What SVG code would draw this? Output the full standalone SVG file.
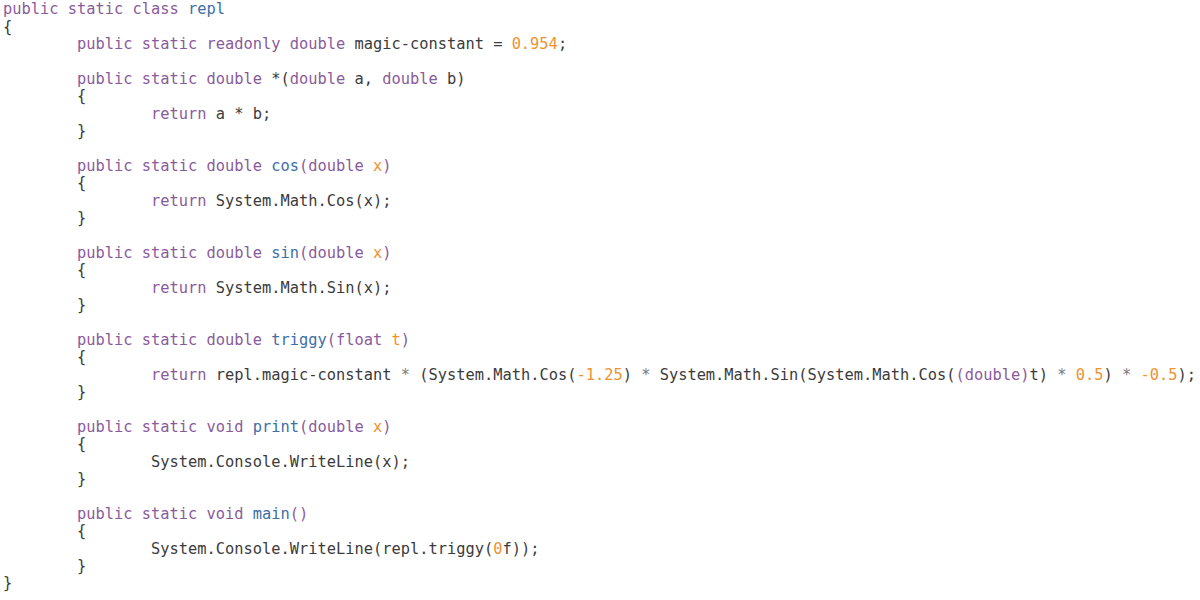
<svg xmlns="http://www.w3.org/2000/svg" width="1200" height="600" viewBox="0 0 1200 600">
<style>
text{font-family:"DejaVu Sans Mono","Liberation Mono",monospace;font-size:15.37px;fill:#3b3b3b;white-space:pre}
.k{fill:#8a5b9c}
.f{fill:#3d6ea6}
.n{fill:#ee922f}
.o{fill:#7a7a7a}
</style>
<rect width="1200" height="600" fill="#ffffff"/>
<g id="code" xml:space="preserve" transform="translate(0,0.8)">
<text x="3" y="13.5"><tspan class="k">public static class</tspan> <tspan class="f">repl</tspan></text>
<text x="3" y="30.9">{</text>
<text x="77" y="48.3"><tspan class="k">public static readonly double</tspan> magic-constant = <tspan class="n">0.954</tspan>;</text>
<text x="77" y="83.1"><tspan class="k">public static double</tspan> *(<tspan class="k">double</tspan> a, <tspan class="k">double</tspan> b)</text>
<text x="77" y="100.5">{</text>
<text x="151" y="117.9"><tspan class="k">return</tspan> a * b;</text>
<text x="77" y="135.3">}</text>
<text x="77" y="170.1"><tspan class="k">public static double</tspan> <tspan class="f">cos</tspan><tspan class="k">(double</tspan> <tspan class="n">x</tspan><tspan class="k">)</tspan></text>
<text x="77" y="187.5">{</text>
<text x="151" y="204.9"><tspan class="k">return</tspan> System.Math.Cos(x);</text>
<text x="77" y="222.3">}</text>
<text x="77" y="257.1"><tspan class="k">public static double</tspan> <tspan class="f">sin</tspan><tspan class="k">(double</tspan> <tspan class="n">x</tspan><tspan class="k">)</tspan></text>
<text x="77" y="274.5">{</text>
<text x="151" y="291.9"><tspan class="k">return</tspan> System.Math.Sin(x);</text>
<text x="77" y="309.3">}</text>
<text x="77" y="344.1"><tspan class="k">public static double</tspan> <tspan class="f">triggy</tspan><tspan class="k">(float</tspan> <tspan class="n">t</tspan><tspan class="k">)</tspan></text>
<text x="77" y="361.5">{</text>
<text x="151" y="378.9"><tspan class="k">return</tspan> repl.magic-constant <tspan class="o">*</tspan> (System.Math.Cos(<tspan class="n">-1.25</tspan>) <tspan class="o">*</tspan> System.Math.Sin(System.Math.Cos(<tspan class="k">(double)</tspan>t) <tspan class="o">*</tspan> <tspan class="n">0.5</tspan>) <tspan class="o">*</tspan> <tspan class="n">-0.5</tspan>);</text>
<text x="77" y="396.3">}</text>
<text x="77" y="431.1"><tspan class="k">public static void</tspan> <tspan class="f">print</tspan><tspan class="k">(double</tspan> <tspan class="n">x</tspan><tspan class="k">)</tspan></text>
<text x="77" y="448.5">{</text>
<text x="151" y="465.9">System.Console.WriteLine(x);</text>
<text x="77" y="483.3">}</text>
<text x="77" y="518.1"><tspan class="k">public static void</tspan> <tspan class="f">main</tspan><tspan class="k">()</tspan></text>
<text x="77" y="535.5">{</text>
<text x="151" y="552.9">System.Console.WriteLine(repl.triggy(<tspan class="n">0</tspan>f));</text>
<text x="77" y="570.3">}</text>
<text x="3" y="587.7">}</text>
</g>
</svg>
